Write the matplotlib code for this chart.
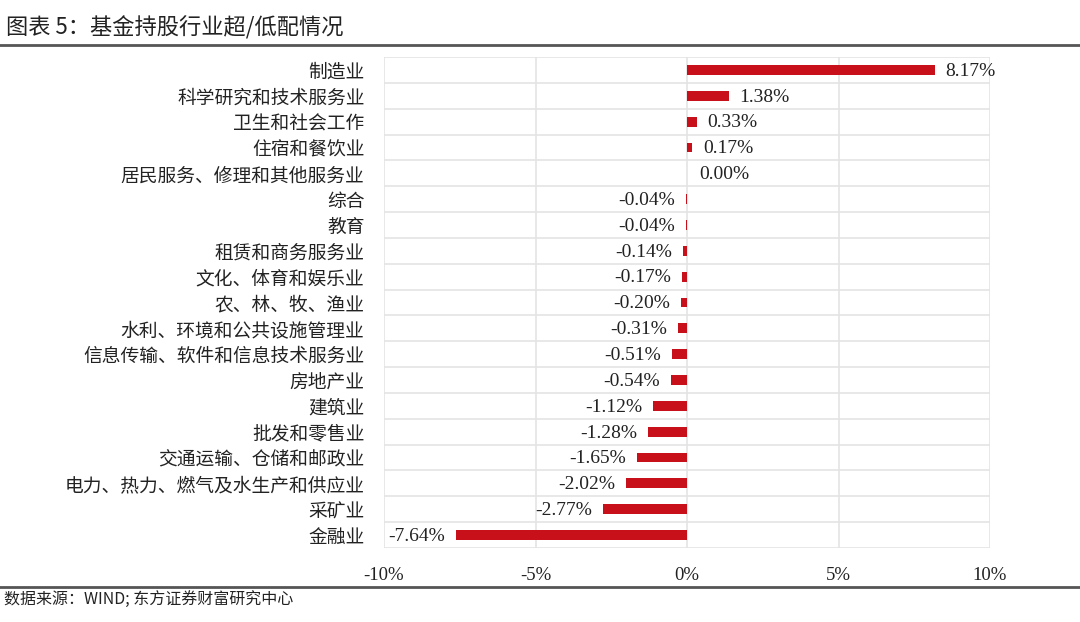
import matplotlib.pyplot as plt
from matplotlib.lines import Line2D
import numpy as np

plt.rcParams['font.family'] = ['Liberation Serif', 'Noto Sans CJK SC', 'DejaVu Sans']

industries = ["制造业", "科学研究和技术服务业", "卫生和社会工作", "住宿和餐饮业",
              "居民服务、修理和其他服务业", "综合", "教育", "租赁和商务服务业",
              "文化、体育和娱乐业", "农、林、牧、渔业", "水利、环境和公共设施管理业",
              "信息传输、软件和信息技术服务业", "房地产业", "建筑业", "批发和零售业",
              "交通运输、仓储和邮政业", "电力、热力、燃气及水生产和供应业", "采矿业", "金融业"]
values = [8.17, 1.38, 0.33, 0.17, 0.00, -0.04, -0.04, -0.14, -0.17, -0.20,
          -0.31, -0.51, -0.54, -1.12, -1.28, -1.65, -2.02, -2.77, -7.64]
xticks = [-10, -5, 0, 5, 10]

cjk = ['Noto Sans CJK SC', 'DejaVu Sans']

fig = plt.figure(figsize=(10.8, 6.22), dpi=100)
ax = fig.add_axes([384 / 1080, 1 - 548 / 622, 606 / 1080, 491 / 622])

n = len(industries)
y = np.arange(n)
ax.barh(y, values, height=0.38, color="#C8101A", zorder=3)
ax.set_ylim(n - 0.5, -0.5)
ax.set_xlim(-10, 10)

for yi, v in zip(y, values):
    if v > 0:
        ax.text(v + 0.35, yi + 0.05, f"{v:.2f}%", va="center", ha="left", fontsize=14, color="#222222")
    elif v == 0:
        ax.text(0.4, yi + 0.05, f"{v:.2f}%", va="center", ha="left", fontsize=14, color="#222222")
    else:
        ax.text(v - 0.35, yi + 0.05, f"{v:.2f}%", va="center", ha="right", fontsize=14, color="#222222")

ax.set_yticks(y)
ax.set_yticklabels(industries, fontsize=13.5, color="#222222", family=cjk)
ax.set_xticks(xticks)
ax.set_xticklabels([f"{t}%" for t in xticks], fontsize=13.5, color="#222222")
ax.tick_params(axis="x", length=0, pad=14)
ax.tick_params(axis="y", length=0, pad=14)

# grid lines between categories and at x ticks
for b in np.arange(-0.5, n, 1.0):
    ax.axhline(b, color="#E4E4E4", lw=1.2, zorder=1)
for t in xticks:
    ax.axvline(t, color="#E4E4E4", lw=1.2, zorder=1)
for s in ax.spines.values():
    s.set_visible(False)

fig.text(6 / 1080, 1 - 28 / 622, "图表 5：基金持股行业超/低配情况", fontsize=16,
         va="center", ha="left", family=cjk, color="#222222")
fig.add_artist(Line2D([0, 1], [1 - 45 / 622] * 2, color="#555555", lw=2))
fig.add_artist(Line2D([0, 1], [1 - 587 / 622] * 2, color="#555555", lw=2))
fig.text(4 / 1080, 1 - 599 / 622, "数据来源：WIND; 东方证券财富研究中心", fontsize=11.5,
         va="center", ha="left", family=cjk, color="#222222")

fig.savefig("out.png", dpi=100)
